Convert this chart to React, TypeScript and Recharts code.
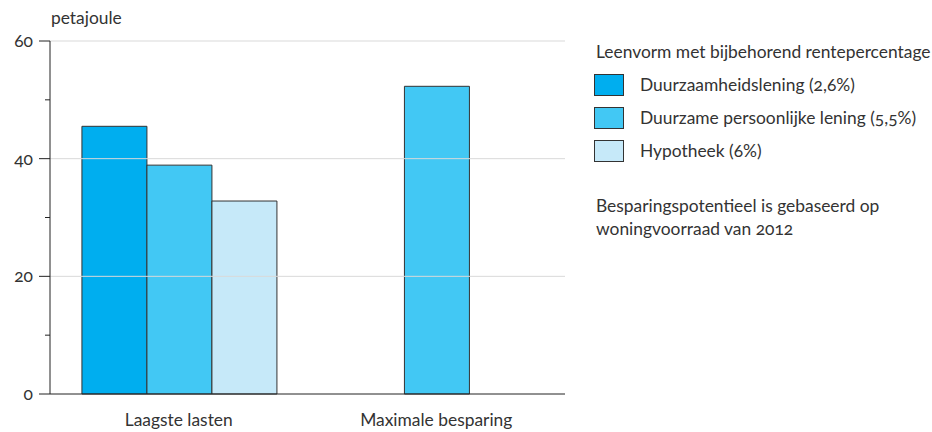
import React from 'react';
import {
  BarChart,
  Bar,
  XAxis,
  YAxis,
  ReferenceLine
} from 'recharts';

const categories = ['Laagste lasten', 'Maximale besparing'];
const duurzaamheidslening = [45.5, null];
const persoonlijkeLening = [38.9, 52.3];
const hypotheek = [32.8, null];
const yTicks = [0, 10, 20, 30, 40, 50, 60];
const gridValues = [20, 40, 60];

const seriesInfo = [
  { key: 'duurzaamheid', name: 'Duurzaamheidslening (2,6%)', color: '#00AEEF' },
  { key: 'persoonlijk', name: 'Duurzame persoonlijke lening (5,5%)', color: '#42C8F4' },
  { key: 'hypotheek', name: 'Hypotheek (6%)', color: '#C6E9F9' }
];

const data = categories.map((cat, i) => ({
  category: cat,
  duurzaamheid: duurzaamheidslening[i],
  persoonlijk: persoonlijkeLening[i],
  hypotheek: hypotheek[i]
}));

const FONT = 'Lato, "Noto Sans", sans-serif';
const FS = 17.4;
const TEXT = '#333333';

const YTick = (props: any) => {
  const { x, y, payload } = props;
  const major = payload.value % 20 === 0;
  return (
    <g>
      <line x1={x - (major ? 11 : 5)} x2={x} y1={y} y2={y} stroke="#222" strokeWidth={1} />
      {major && (
        <text
          x={x - 17}
          y={y}
          dy={6}
          textAnchor="end"
          fontFamily={FONT}
          fontSize={FS}
          fill={TEXT}
          style={{ fontVariantNumeric: 'oldstyle-nums' }}
        >
          {payload.value}
        </text>
      )}
    </g>
  );
};

// legend is plain html next to the chart, so it doesn't eat plot width
const ChartLegend = () => (
  <div
    style={{
      position: 'absolute',
      left: 594,
      top: 41,
      fontFamily: FONT,
      fontSize: FS,
      color: TEXT,
      fontVariantNumeric: 'oldstyle-nums',
      whiteSpace: 'nowrap'
    }}
  >
    <div style={{ marginLeft: 2, height: 22, lineHeight: '22px' }}>Leenvorm met bijbehorend rentepercentage</div>
    <div style={{ height: 5 }} />
    {seriesInfo.map(s => (
      <div key={s.key} style={{ display: 'flex', alignItems: 'center', height: 33 }}>
        <div
          style={{
            width: 28,
            height: 20,
            background: s.color,
            border: '1px solid #333',
            marginRight: 16
          }}
        />
        <span>{s.name}</span>
      </div>
    ))}
    <div style={{ marginTop: 27, marginLeft: 2, lineHeight: '23px' }}>
      Besparingspotentieel is gebaseerd op
      <br />
      woningvoorraad van 2012
    </div>
  </div>
);

const App: React.FC = () => {
  return (
    <div style={{ width: 932, height: 432, position: 'relative' }}>
      <style>{`body{margin:0}`}</style>
      <BarChart
        width={932}
        height={432}
        data={data}
        margin={{ top: 41, right: 367, left: 0, bottom: 0 }}
        barCategoryGap="12.4%"
        barGap={0}
      >
        {gridValues.map(v => (
          <ReferenceLine key={v} y={v} stroke="#d9d9d9" strokeWidth={1} />
        ))}
        <XAxis
          dataKey="category"
          height={38}
          axisLine={{ stroke: '#222' }}
          tickLine={false}
          tick={{ fontFamily: FONT, fontSize: FS, fill: TEXT }}
          tickMargin={14}
        />
        <YAxis
          width={50}
          domain={[0, 60]}
          ticks={yTicks}
          interval={0}
          axisLine={{ stroke: '#222' }}
          tickLine={false}
          tickSize={0}
          tickMargin={0}
          tick={<YTick />}
        />
        {seriesInfo.map(s => (
          <Bar
            key={s.key}
            dataKey={s.key}
            name={s.name}
            fill={s.color}
            stroke="#333"
            strokeWidth={1}
            isAnimationActive={false}
          />
        ))}
        <text x={51} y={24} fontFamily={FONT} fontSize={FS} fill={TEXT}>
          petajoule
        </text>
      </BarChart>
      <ChartLegend />
    </div>
  );
};

export default App;
